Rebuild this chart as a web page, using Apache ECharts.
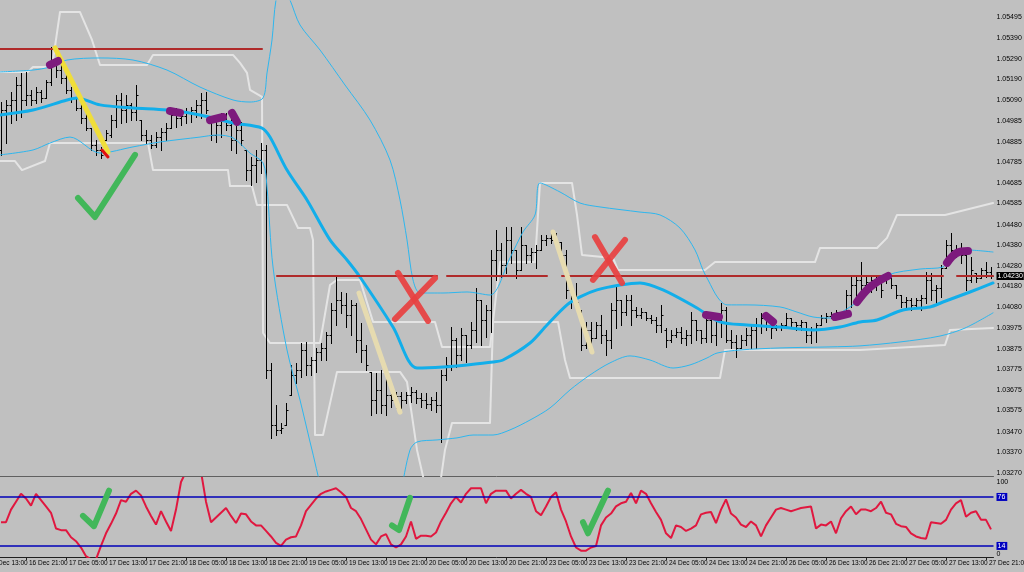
<!DOCTYPE html>
<html>
<head>
<meta charset="utf-8">
<script src="https://cdn.jsdelivr.net/npm/echarts@6/dist/echarts.min.js"></script>
<style>
html, body { margin: 0; padding: 0; background: #c0c0c0; }
#chart { width: 1024px; height: 572px; }
</style>
</head>
<body>
<div id="chart"></div>
<script>
// time axis: one label every 8 bars (H1)
const tickLabels = ['16 Dec 13:00', '16 Dec 21:00', '17 Dec 05:00', '17 Dec 13:00', '17 Dec 21:00', '18 Dec 05:00',
  '18 Dec 13:00', '18 Dec 21:00', '19 Dec 05:00', '19 Dec 13:00', '19 Dec 21:00', '20 Dec 05:00', '20 Dec 13:00',
  '20 Dec 21:00', '23 Dec 05:00', '23 Dec 13:00', '23 Dec 21:00', '24 Dec 05:00', '24 Dec 13:00', '24 Dec 21:00',
  '26 Dec 05:00', '26 Dec 13:00', '26 Dec 21:00', '27 Dec 05:00', '27 Dec 13:00', '27 Dec 21:00']
const barStart = 3   // first visible bar = 16 Dec 16:00

const priceTicks = [1.05495, 1.05390, 1.05290, 1.05190, 1.05090, 1.04985, 1.04885, 1.04785, 1.04685, 1.04585,
  1.04480, 1.04380, 1.04280, 1.04180, 1.04080, 1.03975, 1.03875, 1.03775, 1.03675, 1.03575, 1.03470, 1.03370, 1.03270]
const lastPrice = 1.04230
const oscTicks = [0, 14, 76, 100]
const oscLevels = [76, 14]

const opens = [1.04845,1.05040,1.05065,1.05089,1.05162,1.05089,1.05113,1.05089,1.05128,1.05099,
  1.05177,1.05284,1.05235,1.05196,1.05138,1.05099,1.05050,1.05001,1.04952,1.04869,
  1.04845,1.04894,1.04918,1.04991,1.05089,1.05040,1.05065,1.05030,1.04991,1.04918,
  1.04894,1.04869,1.04908,1.04933,1.04952,1.05016,1.05001,1.05011,1.05030,1.05040,
  1.05065,1.05089,1.04991,1.04918,1.04967,1.04991,1.04967,1.04894,1.04943,1.04845,
  1.04747,1.04772,1.04796,1.04845,1.03771,1.03503,1.03479,1.03503,1.03649,1.03747,
  1.03771,1.03869,1.03796,1.03820,1.03859,1.03879,1.03942,1.04064,1.04113,1.04089,
  1.04040,1.04089,1.03918,1.03869,1.03762,1.03625,1.03674,1.03601,1.03649,1.03625,
  1.03645,1.03625,1.03649,1.03664,1.03635,1.03625,1.03606,1.03625,1.03601,1.03747,
  1.03796,1.03918,1.03845,1.03942,1.03893,1.03967,1.04113,1.04015,1.04064,1.04308,
  1.04357,1.04284,1.04406,1.04357,1.04259,1.04381,1.04333,1.04347,1.04357,1.04406,
  1.04416,1.04406,1.04396,1.04333,1.04162,1.04113,1.04064,1.03893,1.03967,1.03928,
  1.03991,1.03942,1.03918,1.04064,1.04113,1.04054,1.04113,1.04064,1.04040,1.04054,
  1.04025,1.04015,1.03991,1.03967,1.03918,1.03942,1.03957,1.03928,1.03942,1.04015,
  1.03967,1.03928,1.04015,1.03942,1.04015,1.04064,1.03918,1.03908,1.03879,1.03918,
  1.03942,1.03967,1.03991,1.04025,1.03991,1.03976,1.03986,1.03991,1.04025,1.04006,
  1.03991,1.04006,1.03942,1.03967,1.03991,1.04025,1.04035,1.04045,1.04054,1.04040,
  1.04137,1.04186,1.04211,1.04186,1.04201,1.04211,1.04220,1.04211,1.04220,1.04186,
  1.04137,1.04103,1.04113,1.04089,1.04113,1.04123,1.04211,1.04162,1.04172,1.04269,
  1.04381,1.04357,1.04347,1.04333,1.04211,1.04245,1.04220,1.04259,1.04250]
const highs = [1.05079,1.05089,1.05128,1.05201,1.05221,1.05226,1.05138,1.05152,1.05138,1.05187,
  1.05348,1.05294,1.05260,1.05221,1.05152,1.05099,1.05079,1.05055,1.04952,1.04894,
  1.04860,1.04943,1.05016,1.05113,1.05123,1.05113,1.05074,1.05162,1.04991,1.04943,
  1.04918,1.04933,1.04952,1.04977,1.05040,1.05050,1.05026,1.05050,1.05055,1.05089,
  1.05123,1.05128,1.04991,1.04991,1.05026,1.05026,1.05030,1.04982,1.04982,1.04845,
  1.04811,1.04845,1.04879,1.04869,1.03806,1.03601,1.03513,1.03610,1.03796,1.03806,
  1.03903,1.03908,1.03835,1.03879,1.03903,1.03957,1.04098,1.04225,1.04152,1.04147,
  1.04113,1.04098,1.04001,1.03893,1.03762,1.03757,1.03771,1.03762,1.03684,1.03664,
  1.03664,1.03664,1.03688,1.03674,1.03659,1.03659,1.03640,1.03664,1.03771,1.03835,
  1.03981,1.03928,1.03976,1.03942,1.04006,1.04172,1.04113,1.04089,1.04357,1.04455,
  1.04391,1.04469,1.04469,1.04357,1.04469,1.04381,1.04367,1.04381,1.04430,1.04430,
  1.04440,1.04440,1.04396,1.04357,1.04201,1.04196,1.04064,1.04006,1.04006,1.04006,
  1.04040,1.03967,1.04098,1.04176,1.04113,1.04137,1.04137,1.04079,1.04074,1.04054,
  1.04040,1.04030,1.04089,1.03976,1.03967,1.03976,1.03981,1.03967,1.04054,1.04015,
  1.03967,1.04050,1.04050,1.04040,1.04098,1.04079,1.03967,1.03942,1.03942,1.03976,
  1.03991,1.04025,1.04050,1.04030,1.04025,1.03991,1.04001,1.04050,1.04025,1.04006,
  1.04015,1.04006,1.03981,1.04001,1.04040,1.04050,1.04054,1.04064,1.04054,1.04162,
  1.04225,1.04235,1.04298,1.04225,1.04225,1.04235,1.04220,1.04235,1.04220,1.04186,
  1.04137,1.04128,1.04123,1.04123,1.04137,1.04250,1.04245,1.04186,1.04284,1.04406,
  1.04440,1.04381,1.04391,1.04367,1.04323,1.04245,1.04269,1.04298,1.04274]
const lows = [1.04821,1.04879,1.04977,1.04991,1.05006,1.05065,1.05065,1.05074,1.05079,1.05099,
  1.05162,1.05201,1.05172,1.05123,1.05079,1.05040,1.04977,1.04943,1.04845,1.04821,
  1.04806,1.04894,1.04908,1.04957,1.04977,1.04982,1.04991,1.04991,1.04894,1.04879,
  1.04855,1.04860,1.04845,1.04894,1.04952,1.04957,1.04967,1.04977,1.04982,1.05006,
  1.05001,1.05026,1.04894,1.04884,1.04908,1.04943,1.04845,1.04830,1.04869,1.04699,
  1.04674,1.04689,1.04733,1.03732,1.03440,1.03454,1.03464,1.03503,1.03649,1.03708,
  1.03737,1.03747,1.03747,1.03762,1.03820,1.03820,1.03903,1.03991,1.04050,1.03981,
  1.03942,1.03859,1.03810,1.03771,1.03552,1.03562,1.03562,1.03552,1.03591,1.03586,
  1.03586,1.03610,1.03615,1.03610,1.03591,1.03586,1.03576,1.03566,1.03420,1.03723,
  1.03771,1.03786,1.03820,1.03810,1.03879,1.03908,1.03893,1.03932,1.03957,1.04211,
  1.04225,1.04245,1.04294,1.04220,1.04259,1.04294,1.04298,1.04269,1.04357,1.04381,
  1.04391,1.04381,1.04308,1.04123,1.04074,1.04089,1.03869,1.03879,1.03903,1.03928,
  1.03903,1.03845,1.03879,1.03976,1.03991,1.04040,1.03991,1.04030,1.04025,1.04015,
  1.04001,1.03957,1.03957,1.03884,1.03908,1.03932,1.03903,1.03893,1.03903,1.03918,
  1.03903,1.03908,1.03908,1.03893,1.03932,1.03908,1.03879,1.03835,1.03879,1.03893,
  1.03879,1.03879,1.03952,1.03967,1.03928,1.03967,1.03967,1.03976,1.03976,1.03967,
  1.03967,1.03908,1.03903,1.03908,1.03991,1.04006,1.04025,1.04030,1.04025,1.04030,
  1.04079,1.04098,1.04123,1.04147,1.04152,1.04162,1.04128,1.04196,1.04172,1.04123,
  1.04079,1.04074,1.04064,1.04074,1.04064,1.04098,1.04113,1.04098,1.04128,1.04269,
  1.04308,1.04323,1.04294,1.04162,1.04201,1.04201,1.04220,1.04225,1.04220]
const closes = [1.05040,1.05065,1.05089,1.05162,1.05089,1.05113,1.05089,1.05128,1.05099,1.05177,
  1.05284,1.05235,1.05196,1.05138,1.05099,1.05050,1.05001,1.04952,1.04869,1.04845,
  1.04821,1.04928,1.04991,1.05089,1.05040,1.05065,1.05030,1.05113,1.04918,1.04894,
  1.04869,1.04908,1.04933,1.04952,1.05016,1.05001,1.05011,1.05030,1.05040,1.05065,
  1.05089,1.05040,1.04918,1.04967,1.04991,1.04967,1.04894,1.04943,1.04894,1.04747,
  1.04772,1.04796,1.04845,1.03771,1.03503,1.03479,1.03488,1.03576,1.03747,1.03771,
  1.03869,1.03796,1.03820,1.03859,1.03879,1.03942,1.04064,1.04113,1.04089,1.04040,
  1.04089,1.03918,1.03869,1.03796,1.03625,1.03674,1.03601,1.03649,1.03625,1.03645,
  1.03625,1.03649,1.03664,1.03635,1.03625,1.03606,1.03625,1.03601,1.03747,1.03796,
  1.03918,1.03845,1.03942,1.03893,1.03967,1.04113,1.04015,1.04064,1.04308,1.04357,
  1.04284,1.04406,1.04357,1.04259,1.04381,1.04333,1.04347,1.04357,1.04406,1.04416,
  1.04406,1.04396,1.04333,1.04162,1.04113,1.04103,1.03893,1.03967,1.03928,1.03991,
  1.03942,1.03918,1.04064,1.04113,1.04054,1.04113,1.04064,1.04040,1.04054,1.04025,
  1.04015,1.03991,1.04040,1.03918,1.03942,1.03957,1.03928,1.03942,1.04015,1.03967,
  1.03928,1.04015,1.03942,1.04015,1.04064,1.03918,1.03908,1.03879,1.03918,1.03942,
  1.03967,1.03991,1.04025,1.03991,1.03976,1.03986,1.03991,1.04025,1.04006,1.03991,
  1.04006,1.03942,1.03967,1.03991,1.04025,1.04035,1.04045,1.04054,1.04040,1.04137,
  1.04186,1.04211,1.04186,1.04201,1.04211,1.04220,1.04162,1.04220,1.04186,1.04137,
  1.04103,1.04113,1.04089,1.04113,1.04123,1.04211,1.04162,1.04172,1.04269,1.04381,
  1.04357,1.04347,1.04333,1.04211,1.04259,1.04220,1.04259,1.04250,1.04230]

// oscillator, one value per bar
const oscValues = [44,44,60,70,80,74,65,80,72,64,56,36,34,34,25,20,12,1,-3,-3,
  14,30,42,55,72,70,80,84,78,64,52,41,58,45,33,60,95,108,108,108,
  108,70,44,50,56,62,52,43,55,54,45,40,40,33,26,18,14,22,25,26,
  40,58,66,74,80,83,85,87,82,76,62,58,48,35,22,16,26,29,16,12,
  16,26,45,23,27,27,26,31,45,56,68,76,69,80,87,87,87,68,80,84,
  84,84,74,80,85,80,76,58,53,64,76,82,60,45,26,12,8,8,12,14,
  40,50,55,64,68,70,81,68,84,80,68,57,47,30,24,40,38,33,36,40,
  54,56,57,43,60,73,55,50,41,38,45,40,26,40,50,60,62,60,58,60,
  62,63,64,36,41,40,45,30,49,58,64,54,60,60,58,62,70,56,54,42,
  39,38,30,26,24,23,44,43,42,47,60,68,72,51,56,58,47,47,35]

// indicator lines on the price chart: [bar position, price]
const maLine = [[2.8,1.05016],[9.4,1.05040],[16.2,1.05089],[18.2,1.05099],[22.8,1.05065],[29.4,1.05050],
  [36.2,1.05040],[42.8,1.05016],[49.4,1.04977],[55.2,1.04952],[56.8,1.04908],[60.2,1.04747],[64.2,1.04601],
  [68.8,1.04406],[72.2,1.04308],[74.8,1.04225],[81.4,1.03981],[86.2,1.03781],[91.4,1.03786],[96.2,1.03796],
  [101.4,1.03810],[103.4,1.03820],[108.8,1.03903],[112.2,1.03991],[116.2,1.04089],[118.8,1.04128],
  [122.2,1.04162],[126.8,1.04186],[130.8,1.04196],[135.4,1.04162],[142.2,1.04074],[146.8,1.04006],
  [152.2,1.03991],[158.8,1.03981],[165.4,1.03967],[170.8,1.03981],[174.8,1.04006],[178.2,1.04015],
  [183.4,1.04064],[188.8,1.04079],[191.4,1.04103],[196.8,1.04152],[201.4,1.04196]]
const upperBand = [[2.8,1.05226],[9.4,1.05235],[12.8,1.05250],[16.2,1.05284],[22.8,1.05294],[29.4,1.05284],
  [36.2,1.05235],[42.8,1.05152],[49.4,1.05089],[52.8,1.05079],[55.4,1.05099],[56.2,1.05221],[57.2,1.05382],
  [58,1.05577],[59.2,1.05650],[60.8,1.05577],[62.8,1.05455],[66.8,1.05333],[71.8,1.05162],[76.8,1.04991],
  [80.8,1.04796],[82.8,1.04601],[84.2,1.04406],[85.4,1.04211],[86.8,1.04147],[91.4,1.04147],[96.2,1.04152],
  [100.8,1.04137],[104.8,1.04318],[107.4,1.04445],[109.8,1.04528],[110.8,1.04684],[114.8,1.04640],
  [118.8,1.04586],[122.8,1.04567],[130.8,1.04542],[134.8,1.04528],[138.8,1.04464],[141.8,1.04357],
  [143.4,1.04259],[144.4,1.04211],[146.4,1.04123],[148.2,1.04089],[152.2,1.04089],[158.8,1.04079],
  [162.2,1.04054],[165.4,1.04030],[168.8,1.04025],[171.8,1.04064],[174.2,1.04103],[176.8,1.04162],
  [180.4,1.04235],[186.8,1.04264],[191.4,1.04274],[192.8,1.04323],[196.2,1.04357],[201.4,1.04347]]
const lowerBand = [[2.8,1.04821],[9.4,1.04845],[12.8,1.04879],[16.8,1.04908],[22.8,1.04830],[29.4,1.04860],
  [34.8,1.04884],[42.8,1.04908],[46.2,1.04918],[49.4,1.04904],[52.8,1.04830],[55.4,1.04782],[56.2,1.04664],
  [57.4,1.04274],[60.2,1.03869],[62.8,1.03625],[65.2,1.03381],[67.8,1.03137],[71.8,1.02942],[76.8,1.02869],
  [80.8,1.02991],[82.8,1.03161],[84.8,1.03381],[86.2,1.03420],[90.2,1.03430],[94.2,1.03440],[97.4,1.03454],
  [101.4,1.03454],[104.8,1.03479],[108.8,1.03527],[112.8,1.03586],[116.8,1.03674],[120.8,1.03747],
  [124.8,1.03806],[128.8,1.03840],[132.8,1.03820],[137.4,1.03781],[140.8,1.03796],[144.2,1.03830],
  [146.2,1.03854],[150.8,1.03869],[158.8,1.03879],[168.8,1.03884],[174.8,1.03889],[182.8,1.03908],
  [190.8,1.03937],[195.8,1.03976],[201.4,1.04050]]
const channelUpper = [[2.8,1.05226],[8.4,1.05226],[9.4,1.05250],[13.2,1.05250],[14.8,1.05518],[18.8,1.05518],
  [21.2,1.05382],[22.8,1.05260],[32.2,1.05260],[33.4,1.05309],[49.4,1.05309],[50.8,1.05270],[52.2,1.05221],
  [52.8,1.05138],[55.2,1.05104],[55.4,1.03952],[56.8,1.03903],[66.8,1.03903],[68.8,1.04186],[70.2,1.04211],
  [74.8,1.04211],[77.4,1.04006],[89.8,1.04006],[91.2,1.03884],[100.8,1.03884],[102.8,1.04298],[109.8,1.04298],
  [110.8,1.04684],[117.2,1.04684],[118.2,1.04528],[119.2,1.04333],[125.4,1.04318],[126.4,1.04259],
  [143.8,1.04259],[145.8,1.04298],[165.8,1.04298],[166.8,1.04367],[178.2,1.04367],[180.2,1.04416],
  [182.2,1.04528],[191.8,1.04528],[201.4,1.04586]]
const channelLower = [[2.8,1.04791],[5.8,1.04791],[7.2,1.04747],[11.8,1.04791],[12.8,1.04879],[32.4,1.04879],
  [33.4,1.04747],[48.4,1.04747],[48.8,1.04669],[53.2,1.04669],[54.2,1.04577],[60.2,1.04577],[62.4,1.04464],
  [64.8,1.04464],[65.4,1.04406],[65.8,1.03454],[67.4,1.03454],[70.2,1.03762],[82.8,1.03762],[84.2,1.03713],
  [86.2,1.03381],[87.8,1.03210],[90.8,1.03210],[91.8,1.03381],[93.2,1.03513],[100.8,1.03513],[101.4,1.04006],
  [114.4,1.04006],[115.8,1.03820],[116.8,1.03732],[146.8,1.03732],[147.8,1.03869],[174.8,1.03869],
  [191.8,1.03893],[192.8,1.03967],[201.4,1.03976]]

// drawn objects
const redTop = [[2.8,1.05338],[55.2,1.05338]]
const redMid = [[58.2,1.04230],[90.2,1.04230],null,[92.2,1.04230],[112.2,1.04230],null,
  [115.2,1.04230],[191.4,1.04230],null,[194.2,1.04230],[201.4,1.04230]]
const yellowLine = [[13.8,1.05343],[24.4,1.04835]]
const redTick = [[23.2,1.04845],[24.4,1.04811]]
const tanLine1 = [[74.6,1.04147],[82.8,1.03566]]
const tanLine2 = [[113.4,1.04445],[121.2,1.03859]]
const purpleMarks = [
  [[12.8,1.05260],[14.4,1.05279]],
  [[36.8,1.05035],[38.8,1.05026]],
  [[44.8,1.04991],[47.4,1.05006]],
  [[49.2,1.05026],[50.2,1.04982]],
  [[144,1.04040],[146.6,1.04030]],
  [[156,1.04035],[157.4,1.04006]],
  [[169.8,1.04030],[172.4,1.04045]],
  [[174.2,1.04103],[176.8,1.04176],[180.4,1.04230]],
  [[192.2,1.04294],[194.2,1.04343],[196.4,1.04352]]]
const crossMarks = [
  [[81.8,1.04020],[89.8,1.04220]], [[82.4,1.04245],[88.4,1.04011]],
  [[121.8,1.04420],[127.2,1.04196]], [[127.8,1.04406],[121.4,1.04211]]]
const checkMain = [[18.4,1.04611],[21.8,1.04518],[29.8,1.04821]]
const checkOsc = [
  [[19.4,52],[21.6,39],[24.6,84]],
  [[81.2,40],[82.6,34],[84.8,75]],
  [[119.4,44],[120.4,30],[124.4,84]]]

const xMax = 8 * (tickLabels.length - 1) + 1.5
const tickPos = tickLabels.map((_, k) => k * 8)
const ohlc = opens.map((o, i) => [i + barStart, o, highs[i], lows[i], closes[i]])
const oscData = oscValues.map((v, i) => [i + barStart, v])

const chart = echarts.init(document.getElementById('chart'))

function lineSeries(data, color, width, opts) {
  return Object.assign({
    type: 'line', data: data, symbol: 'none', silent: true, animation: false,
    xAxisIndex: 0, yAxisIndex: 0, connectNulls: false,
    lineStyle: { color: color, width: width, cap: 'round', join: 'round' }
  }, opts || {})
}

const series = [
  lineSeries(channelUpper, '#e4e4e4', 2, { z: 1 }),
  lineSeries(channelLower, '#e4e4e4', 2, { z: 1 }),
  {
    type: 'custom', xAxisIndex: 0, yAxisIndex: 0, z: 2, animation: false, silent: true,
    data: ohlc,
    encode: { x: 0, y: [1, 2, 3, 4] },
    renderItem: function (params, api) {
      const j = api.value(0)
      const pO = api.coord([j, api.value(1)])
      const pH = api.coord([j, api.value(2)])
      const pL = api.coord([j, api.value(3)])
      const pC = api.coord([j, api.value(4)])
      const x = Math.round(pH[0]) + 0.5
      const st = { stroke: '#000', lineWidth: 1 }
      return {
        type: 'group', children: [
          { type: 'line', shape: { x1: x, y1: Math.round(pH[1]), x2: x, y2: Math.round(pL[1]) + 1 }, style: st },
          { type: 'line', shape: { x1: x - 2, y1: Math.round(pO[1]) + 0.5, x2: x, y2: Math.round(pO[1]) + 0.5 }, style: st },
          { type: 'line', shape: { x1: x, y1: Math.round(pC[1]) + 0.5, x2: x + 2, y2: Math.round(pC[1]) + 0.5 }, style: st }
        ]
      }
    }
  },
  lineSeries(upperBand, '#2db6ee', 1, { z: 3, smooth: 0.3 }),
  lineSeries(lowerBand, '#2db6ee', 1, { z: 3, smooth: 0.3 }),
  lineSeries(maLine, '#12aeea', 3, { z: 3, smooth: 0.3 }),
  lineSeries(redTop, '#b02a2a', 2, { z: 4 }),
  lineSeries(redMid, '#b02a2a', 2, { z: 4 }),
  lineSeries(yellowLine, '#f0de3a', 5, { z: 5 }),
  lineSeries(redTick, '#e01010', 3, { z: 5 }),
  lineSeries(tanLine1, '#e6dbb0', 5, { z: 5 }),
  lineSeries(tanLine2, '#e6dbb0', 5, { z: 5 }),
  lineSeries(checkMain, '#42b75a', 6, { z: 5 })
]
purpleMarks.forEach(d => series.push(lineSeries(d, '#7d1a7d', 8, { z: 6, smooth: 0.4 })))
crossMarks.forEach(d => series.push(lineSeries(d, 'rgba(232,64,64,0.92)', 6, { z: 6 })))
series.push({
  type: 'line', xAxisIndex: 1, yAxisIndex: 1, data: oscData, symbol: 'none', silent: true, animation: false,
  z: 3, lineStyle: { color: '#e0173f', width: 2 },
  markLine: {
    silent: true, symbol: 'none', animation: false, label: { show: false },
    lineStyle: { color: '#0000b8', width: 1.5, type: 'solid' },
    data: oscLevels.map(v => ({ yAxis: v }))
  }
})
checkOsc.forEach(d => series.push(lineSeries(d, '#42b75a', 6, { z: 5, xAxisIndex: 1, yAxisIndex: 1 })))

const font = 'Liberation Sans, Arial, sans-serif'

chart.setOption({
  backgroundColor: '#c0c0c0',
  animation: false,
  grid: [
    { left: -16.5, right: 30.5, top: 1, height: 475, outerBoundsMode: 'none' },
    { left: -16.5, right: 30.5, top: 478, height: 79, outerBoundsMode: 'none' }
  ],
  xAxis: [
    {
      type: 'value', gridIndex: 0, min: -0.5, max: xMax,
      axisLine: { show: true, onZero: false, lineStyle: { color: '#606060', width: 1 } },
      axisTick: { show: false }, axisLabel: { show: false }, splitLine: { show: false }
    },
    {
      type: 'value', gridIndex: 1, min: -0.5, max: xMax,
      axisLine: { show: true, onZero: false, lineStyle: { color: '#202020', width: 1 } },
      axisTick: { show: true, customValues: tickPos, length: 3, lineStyle: { color: '#202020' } },
      splitLine: { show: false },
      axisLabel: {
        customValues: tickPos, formatter: v => tickLabels[Math.round(v / 8)] || '',
        align: 'left', padding: [0, 0, 0, 3], margin: 3,
        fontSize: 6.5, fontFamily: font, color: '#000'
      }
    }
  ],
  yAxis: [
    {
      type: 'value', gridIndex: 0, position: 'right', min: 1.03254, max: 1.05572, scale: true,
      splitLine: { show: false },
      axisLine: { show: true, lineStyle: { color: '#202020' } },
      axisTick: { show: true, customValues: priceTicks, length: 3, lineStyle: { color: '#202020' } },
      axisLabel: {
        customValues: priceTicks.concat([lastPrice]), margin: 3, fontSize: 7, fontFamily: font, color: '#000',
        formatter: v => Math.abs(v - lastPrice) < 1e-7 ? '{cur|' + v.toFixed(5) + '}' : v.toFixed(5),
        rich: { cur: { backgroundColor: '#000', color: '#fff', fontSize: 7, fontFamily: font, padding: [1, 1, 0, 1] } }
      }
    },
    {
      type: 'value', gridIndex: 1, position: 'right', min: 0, max: 100,
      splitLine: { show: false },
      axisLine: { show: true, lineStyle: { color: '#202020' } },
      axisTick: { show: true, customValues: oscTicks, length: 3, lineStyle: { color: '#202020' } },
      axisLabel: {
        customValues: oscTicks, margin: 3, fontSize: 7, fontFamily: font, color: '#000',
        formatter: v => oscLevels.indexOf(v) >= 0 ? '{lvl|' + v + '}' : (v === 100 ? '{top|100}' : '{bot|0}'),
        rich: {
          lvl: { backgroundColor: '#0000c0', color: '#fff', fontSize: 7, fontFamily: font, padding: [1, 2, 0, 1] },
          top: { fontSize: 7, fontFamily: font, color: '#000', padding: [8, 0, 0, 0] },
          bot: { fontSize: 7, fontFamily: font, color: '#000', padding: [0, 0, 6, 0] }
        }
      }
    }
  ],
  series: series
})
</script>
</body>
</html>
